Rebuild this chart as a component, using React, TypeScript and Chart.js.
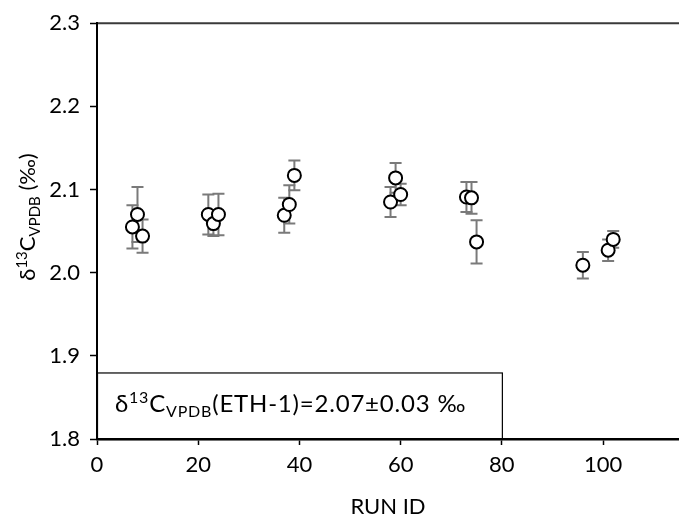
import React, { useEffect, useRef } from "react";
import { Chart, registerables } from "chart.js";

Chart.register(...registerables);

// ---- Data ----
const runIds = [7, 8, 9, 22, 23, 24, 37, 38, 39, 58, 59, 60, 73, 74, 75, 96, 101, 102];
const d13C = [2.055, 2.070, 2.044, 2.070, 2.059, 2.070, 2.069, 2.082, 2.117, 2.085, 2.114, 2.094, 2.091, 2.090, 2.037, 2.009, 2.027, 2.040];
const errors = [0.026, 0.033, 0.020, 0.024, 0.015, 0.025, 0.021, 0.023, 0.018, 0.018, 0.018, 0.013, 0.018, 0.019, 0.026, 0.016, 0.013, 0.010];
const xTicks = [0, 20, 40, 60, 80, 100];
const yTicks = [1.8, 1.9, 2.0, 2.1, 2.2, 2.3];
const xMin = 0;
const xMax = 115;
const yMin = 1.8;
const yMax = 2.3;
const annotXRange = [0, 80];
const annotYRange = [1.8, 1.88];

const FONT = "Lato, 'Open Sans', sans-serif";

type Seg = { t: string; kind: "n" | "sup" | "sub" };

const annotText: Seg[] = [
  { t: "δ", kind: "n" },
  { t: "13", kind: "sup" },
  { t: "C", kind: "n" },
  { t: "VPDB", kind: "sub" },
  { t: "(ETH-1)=2.07±0.03 ‰", kind: "n" },
];

const yTitle: Seg[] = [
  { t: "δ", kind: "n" },
  { t: "13", kind: "sup" },
  { t: "C", kind: "n" },
  { t: "VPDB", kind: "sub" },
  { t: " (‰)", kind: "n" },
];

function segFont(kind: string, size: number, small: number) {
  return `${kind === "n" ? size : small}px ${FONT}`;
}

function measureSegs(ctx: CanvasRenderingContext2D, segs: Seg[], size: number, small: number) {
  let w = 0;
  for (const s of segs) {
    ctx.font = segFont(s.kind, size, small);
    w += ctx.measureText(s.t).width;
  }
  return w;
}

function drawSegs(ctx: CanvasRenderingContext2D, segs: Seg[], x: number, y: number, size: number, small: number, supUp: number, subDown: number) {
  let cx = x;
  ctx.textBaseline = "alphabetic";
  ctx.textAlign = "left";
  for (const s of segs) {
    ctx.font = segFont(s.kind, size, small);
    const dy = s.kind === "sup" ? -supUp : s.kind === "sub" ? subDown : 0;
    ctx.fillText(s.t, cx, y + dy);
    cx += ctx.measureText(s.t).width;
  }
}

const errorBarPlugin = {
  id: "errorBars",
  beforeDatasetsDraw(chart: any) {
    const { ctx, scales } = chart;
    const x = scales.x;
    const y = scales.y;
    ctx.save();
    ctx.strokeStyle = "#7a7a7a";
    ctx.lineWidth = 2;
    runIds.forEach((r, i) => {
      const px = x.getPixelForValue(r);
      const top = y.getPixelForValue(d13C[i] + errors[i]);
      const bot = y.getPixelForValue(d13C[i] - errors[i]);
      ctx.beginPath();
      ctx.moveTo(px, top);
      ctx.lineTo(px, bot);
      ctx.moveTo(px - 6, top);
      ctx.lineTo(px + 6, top);
      ctx.moveTo(px - 6, bot);
      ctx.lineTo(px + 6, bot);
      ctx.stroke();
    });
    ctx.restore();
  },
  afterDatasetsDraw(chart: any) {
    const { ctx, scales, chartArea } = chart;
    const x = scales.x;
    const y = scales.y;
    ctx.save();
    // annotation box
    const left = x.getPixelForValue(annotXRange[0]);
    const right = x.getPixelForValue(annotXRange[1]);
    const top = y.getPixelForValue(annotYRange[1]);
    const bottom = y.getPixelForValue(annotYRange[0]);
    ctx.fillStyle = "#ffffff";
    ctx.fillRect(left, top, right - left, bottom - top);
    ctx.strokeStyle = "#000000";
    ctx.lineWidth = 1.2;
    ctx.strokeRect(left + 0.5, top + 0.5, right - left, bottom - top);
    ctx.fillStyle = "#000000";
    try {
      (ctx as any).letterSpacing = "0.8px";
    } catch (e) {}
    drawSegs(ctx, annotText, left + 18, top + 40, 24, 16, 9, 5);
    try {
      (ctx as any).letterSpacing = "0px";
    } catch (e) {}
    // top border of plot area
    ctx.strokeStyle = "#3a3a3a";
    ctx.lineWidth = 2;
    ctx.beginPath();
    ctx.moveTo(chartArea.left, chartArea.top);
    ctx.lineTo(chartArea.right, chartArea.top);
    ctx.stroke();
    ctx.restore();
  },
  afterDraw(chart: any) {
    const { ctx, chartArea } = chart;
    ctx.save();
    ctx.fillStyle = "#000000";
    // y title (rotated)
    const w = measureSegs(ctx, yTitle, 22, 15);
    ctx.translate(35, 217);
    ctx.rotate(-Math.PI / 2);
    drawSegs(ctx, yTitle, -w / 2, 0, 22, 15, 8, 5);
    ctx.restore();
    ctx.save();
    ctx.fillStyle = "#000000";
    ctx.font = `22px ${FONT}`;
    ctx.textAlign = "center";
    ctx.textBaseline = "middle";
    ctx.fillText("RUN ID", (chartArea.left + chartArea.right) / 2, 507);
    ctx.restore();
  },
};

export default function App() {
  const ref = useRef<HTMLCanvasElement | null>(null);
  useEffect(() => {
    if (!ref.current) return;
    const chart = new Chart(ref.current, {
      type: "scatter",
      data: {
        datasets: [
          {
            data: runIds.map((r, i) => ({ x: r, y: d13C[i] })),
            pointRadius: 6.5,
            pointBorderWidth: 2,
            pointBackgroundColor: "#ffffff",
            pointBorderColor: "#000000",
            showLine: false,
          },
        ],
      },
      options: {
        responsive: false,
        animation: false,
        layout: { autoPadding: false, padding: { top: 21, left: 0, right: 0, bottom: 0 } },
        plugins: { legend: { display: false }, tooltip: { enabled: false } },
        scales: {
          x: {
            type: "linear",
            min: xMin,
            max: xMax,
            afterBuildTicks: (s: any) => {
              s.ticks = xTicks.map((v) => ({ value: v }));
            },
            afterFit: (s: any) => {
              s.height = 78;
              s.paddingRight = 0;
              s.paddingLeft = 0;
            },
            grid: { drawOnChartArea: false, drawTicks: true, tickLength: 6, tickColor: "#000000", tickWidth: 1.5 },
            border: { display: true, color: "#000000", width: 2.5, z: 1 },
            ticks: {
              color: "#000000",
              font: { family: FONT, size: 22 },
              padding: 7,
              maxRotation: 0,
              callback: (v: any) => String(v),
            },
          },
          y: {
            type: "linear",
            min: yMin,
            max: yMax,
            afterBuildTicks: (s: any) => {
              s.ticks = yTicks.map((v) => ({ value: v }));
            },
            afterFit: (s: any) => {
              s.width = 97;
            },
            grid: { drawOnChartArea: false, drawTicks: true, tickLength: 7, tickColor: "#000000", tickWidth: 1.5 },
            border: { display: true, color: "#000000", width: 2, z: 1 },
            ticks: {
              color: "#000000",
              font: { family: FONT, size: 22 },
              padding: 10,
              callback: (v: any) => Number(v).toFixed(1),
            },
          },
        },
      },
      plugins: [errorBarPlugin],
    });
    return () => chart.destroy();
  }, []);
  return (
    <div style={{ position: "absolute", left: 0, top: 0, width: 679, height: 517, background: "#ffffff" }}>
      <canvas ref={ref} width={679} height={517} />
    </div>
  );
}
